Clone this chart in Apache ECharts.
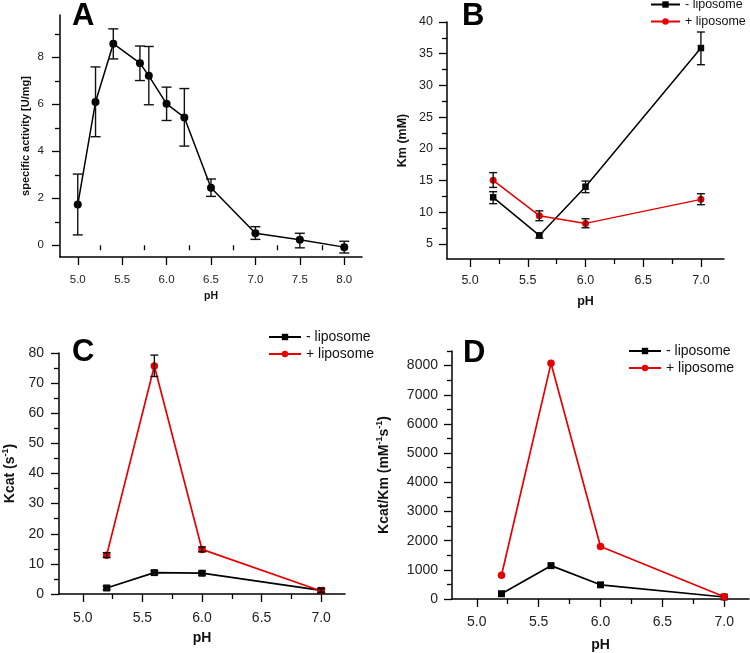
<!DOCTYPE html>
<html><head><meta charset="utf-8">
<script src="https://cdn.jsdelivr.net/npm/echarts@6/dist/echarts.min.js"></script>
<style>html,body{margin:0;padding:0;background:#fff}#c{width:750px;height:653px}</style>
</head><body><div id="c"></div>
<script>
// ---------- data ----------
const phA = [5.0, 5.2, 5.4, 5.7, 5.8, 6.0, 6.2, 6.5, 7.0, 7.5, 8.0];
const activityA = [1.73, 6.10, 8.58, 7.75, 7.21, 6.02, 5.44, 2.45, 0.51, 0.23, -0.08];
const activityA_lo = [0.44, 4.62, 7.93, 7.01, 5.98, 5.31, 4.22, 2.08, 0.25, -0.11, -0.33];
const activityA_hi = [3.03, 7.59, 9.21, 8.48, 8.46, 6.73, 6.67, 2.82, 0.79, 0.51, 0.17];

const phBCD = [5.2, 5.6, 6.0, 7.0];
const kmMinus = [12.33, 6.32, 14.01, 35.89];
const kmMinus_lo = [11.33, 5.90, 13.07, 33.26];
const kmMinus_hi = [13.22, 6.75, 14.90, 38.42];
const kmPlus = [15.02, 9.43, 8.22, 12.01];
const kmPlus_lo = [13.90, 8.64, 7.53, 11.17];
const kmPlus_hi = [16.23, 10.20, 8.95, 12.90];

const kcatMinus = [2.0, 7.1, 6.9, 1.2];
const kcatMinus_lo = [1.4, 6.5, 6.3, 0.6];
const kcatMinus_hi = [2.6, 7.7, 7.5, 1.8];
const kcatPlus = [12.9, 75.7, 14.8, 1.0];
const kcatPlus_lo = [12.1, 72.2, 14.0, 0.3];
const kcatPlus_hi = [13.7, 79.3, 15.6, 1.7];

const effMinus = [181, 1143, 486, 68];
const effPlus = [815, 8077, 1799, 79];

// tick values
const xTicksA = [5.0, 5.5, 6.0, 6.5, 7.0, 7.5, 8.0];
const xMinorA = [5.25, 5.75, 6.25, 6.75, 7.25, 7.75];
const xTicksBCD = [5.0, 5.5, 6.0, 6.5, 7.0];
const xMinorBCD = [5.25, 5.75, 6.25, 6.75];
const yTicksA = [0, 2, 4, 6, 8];
const yMinorA = [1, 3, 5, 7, 9];
const yTicksB = [5, 10, 15, 20, 25, 30, 35, 40];
const yMinorB = [7.5, 12.5, 17.5, 22.5, 27.5, 32.5, 37.5];
const yTicksC = [0, 10, 20, 30, 40, 50, 60, 70, 80];
const yMinorC = [5, 15, 25, 35, 45, 55, 65, 75];
const yTicksD = [0, 1000, 2000, 3000, 4000, 5000, 6000, 7000, 8000];
const yMinorD = [500, 1500, 2500, 3500, 4500, 5500, 6500, 7500, 8500];

const legendNames = ['- liposome', '+ liposome'];
const panelLetters = ['A', 'B', 'C', 'D'];

// ---------- styling helpers ----------
const FONT = '"Liberation Sans", Arial, Helvetica, sans-serif';
const BLACK = '#000';
const RED = '#e60000';

function zip(xs, ys) { return xs.map((x, i) => [x, ys[i]]); }
function zip3(xs, a, b) { return xs.map((x, i) => [x, a[i], b[i]]); }

function xAxes(grid, min, max, ticks, minors, fs, nameFs, nameGap, margin) {
  return [{
    type: 'value', gridIndex: grid, min, max, position: 'bottom',
    name: 'pH', nameLocation: 'middle', nameGap,
    nameTextStyle: { fontFamily: FONT, fontSize: nameFs, fontWeight: 'bold', color: '#111' },
    axisLine: { show: true, onZero: false, lineStyle: { color: BLACK, width: 1.5 } },
    axisTick: { show: true, customValues: ticks, length: 8, lineStyle: { color: BLACK, width: 1.3 } },
    axisLabel: { show: true, customValues: ticks, margin, fontFamily: FONT, fontSize: fs, color: '#222',
      formatter: v => Number(v).toFixed(1) },
    splitLine: { show: false }
  }, {
    type: 'value', gridIndex: grid, min, max, position: 'bottom',
    axisLine: { show: false },
    axisTick: { show: true, customValues: minors, length: 5, lineStyle: { color: BLACK, width: 1.3 } },
    axisLabel: { show: false },
    splitLine: { show: false }
  }];
}

function yAxes(grid, min, max, ticks, minors, fs, name, nameStyle, nameGap, margin) {
  return [{
    type: 'value', gridIndex: grid, min, max, position: 'left',
    name, nameLocation: 'middle', nameGap, nameTextStyle: nameStyle,
    axisLine: { show: true, onZero: false, lineStyle: { color: BLACK, width: 1.5 } },
    axisTick: { show: true, customValues: ticks, length: 8, lineStyle: { color: BLACK, width: 1.3 } },
    axisLabel: { show: true, customValues: ticks, margin, fontFamily: FONT, fontSize: fs, color: '#222',
      formatter: v => String(v) },
    splitLine: { show: false }
  }, {
    type: 'value', gridIndex: grid, min, max, position: 'left',
    axisLine: { show: false },
    axisTick: { show: true, customValues: minors, length: 5, lineStyle: { color: BLACK, width: 1.3 } },
    axisLabel: { show: false },
    splitLine: { show: false }
  }];
}

function lineSeries(name, xi, yi, data, color, symbol, size, width) {
  return {
    type: 'line', name, xAxisIndex: xi, yAxisIndex: yi, data,
    symbol, symbolSize: size, showSymbol: true,
    lineStyle: { color, width }, itemStyle: { color, borderWidth: 0 },
    z: 3
  };
}

function errSeries(xi, yi, data, capHalf) {
  return {
    type: 'custom', xAxisIndex: xi, yAxisIndex: yi, data, z: 4,
    encode: { x: 0, y: [1, 2] },
    renderItem(params, api) {
      const x = api.value(0);
      const lo = api.coord([x, api.value(1)]);
      const hi = api.coord([x, api.value(2)]);
      const st = { stroke: '#111', lineWidth: 1.4 };
      return { type: 'group', children: [
        { type: 'line', shape: { x1: lo[0], y1: lo[1], x2: hi[0], y2: hi[1] }, style: st },
        { type: 'line', shape: { x1: lo[0] - capHalf, y1: lo[1], x2: lo[0] + capHalf, y2: lo[1] }, style: st },
        { type: 'line', shape: { x1: hi[0] - capHalf, y1: hi[1], x2: hi[0] + capHalf, y2: hi[1] }, style: st }
      ]};
    }
  };
}

function supName(fs) {
  return {
    fontFamily: FONT, fontSize: fs, fontWeight: 'bold', color: '#111', lineHeight: fs + 4,
    rich: { sup: { fontFamily: FONT, fontSize: Math.round(fs * 0.62), fontWeight: 'bold', color: '#111',
      verticalAlign: 'top', lineHeight: 9 } }
  };
}

// ---------- axes ----------
const xAxis = [].concat(
  xAxes(0, 4.8, 8.2, xTicksA, xMinorA, 11.5, 10.5, 34, 16.5),
  xAxes(1, 4.8, 7.2, xTicksBCD, xMinorBCD, 12.5, 12.5, 36, 15),
  xAxes(2, 4.8, 7.2, xTicksBCD, xMinorBCD, 14, 14, 37, 17),
  xAxes(3, 4.8, 7.2, xTicksBCD, xMinorBCD, 14, 14, 39, 16)
);
const yAxis = [].concat(
  yAxes(0, -0.5, 9.8, yTicksA, yMinorA, 11.5, 'specific activity [U/mg]',
    { fontFamily: FONT, fontSize: 11, fontWeight: 'bold', color: '#111' }, 29, 16),
  yAxes(1, 2.6, 40, yTicksB, yMinorB, 12.5, 'Km (mM)',
    { fontFamily: FONT, fontSize: 12.5, fontWeight: 'bold', color: '#111' }, 38, 14),
  yAxes(2, 0, 80, yTicksC, yMinorC, 14, 'Kcat (s{sup|-1})', supName(14), 40, 15),
  yAxes(3, 0, 8500, yTicksD, yMinorD, 14, 'Kcat/Km (mM{sup|-1}s{sup|-1})', supName(14), 59, 14)
);

// ---------- series ----------
const series = [
  lineSeries('activity', 0, 0, zip(phA, activityA), BLACK, 'circle', 8, 1.5),
  errSeries(0, 0, zip3(phA, activityA_lo, activityA_hi), 5),

  lineSeries(legendNames[0], 2, 2, zip(phBCD, kmMinus), BLACK, 'rect', 6.5, 1.5),
  lineSeries(legendNames[1], 2, 2, zip(phBCD, kmPlus), RED, 'circle', 7, 1.5),
  errSeries(2, 2, zip3(phBCD, kmMinus_lo, kmMinus_hi), 4),
  errSeries(2, 2, zip3(phBCD, kmPlus_lo, kmPlus_hi), 4),

  lineSeries(legendNames[0], 4, 4, zip(phBCD, kcatMinus), BLACK, 'rect', 7, 1.7),
  lineSeries(legendNames[1], 4, 4, zip(phBCD, kcatPlus), RED, 'circle', 7.5, 1.7),
  errSeries(4, 4, zip3(phBCD, kcatMinus_lo, kcatMinus_hi), 4),
  errSeries(4, 4, zip3(phBCD, kcatPlus_lo, kcatPlus_hi), 4),

  lineSeries(legendNames[0], 6, 6, zip(phBCD, effMinus), BLACK, 'rect', 7, 1.7),
  lineSeries(legendNames[1], 6, 6, zip(phBCD, effPlus), RED, 'circle', 7.5, 1.7)
];

function legend(left, top, fs, w, gap) {
  return {
    data: legendNames, orient: 'vertical', left, top, itemWidth: w, itemHeight: 8, itemGap: gap,
    padding: 0, selectedMode: false,
    textStyle: { fontFamily: FONT, fontSize: fs, color: '#111' }
  };
}

const letterPos = [[72, 16.5], [462, 16], [72, 352.5], [463, 353]];
const graphic = panelLetters.map((t, i) => ({
  type: 'text', x: letterPos[i][0], y: letterPos[i][1], silent: true,
  style: { text: t, font: 'bold 31px ' + FONT, fill: '#000', textVerticalAlign: 'middle', textAlign: 'left' }
}));

const option = {
  animation: false,
  backgroundColor: '#fff',
  grid: [
    { left: 60, top: 15, width: 302, height: 242 },
    { left: 447, top: 22, width: 277, height: 237 },
    { left: 58, top: 353, width: 287, height: 241 },
    { left: 452, top: 351, width: 297, height: 250 }
  ],
  xAxis, yAxis, series,
  legend: [
    legend(650, -2, 12.5, 29, 4),
    legend(268, 330, 14, 32, 3),
    legend(628, 344, 14, 32, 3)
  ],
  graphic
};

const chart = echarts.init(document.getElementById('c'), null, { renderer: 'canvas' });
chart.setOption(option);
</script>
</body></html>
